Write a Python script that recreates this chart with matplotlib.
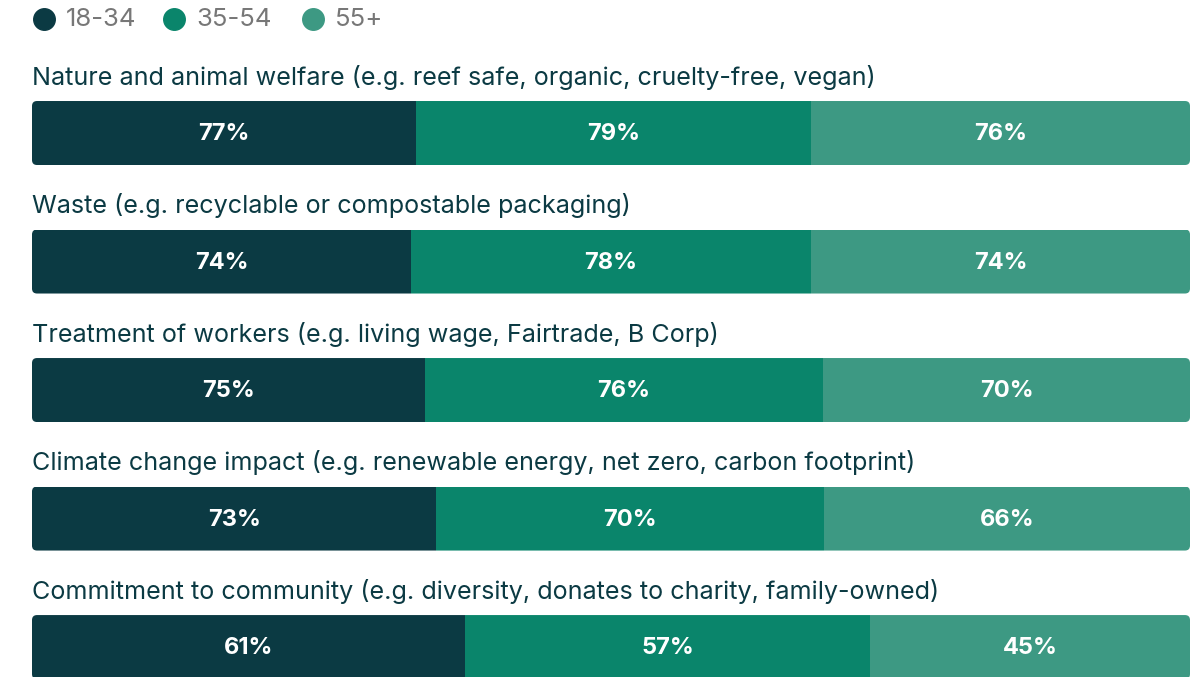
import matplotlib
matplotlib.use("Agg")
import matplotlib.pyplot as plt
from matplotlib.patches import FancyBboxPatch
import numpy as np

plt.rcParams['font.family'] = ['Inter', 'DejaVu Sans']

categories = [
    "Nature and animal welfare (e.g. reef safe, organic, cruelty-free, vegan)",
    "Waste (e.g. recyclable or compostable packaging)",
    "Treatment of workers (e.g. living wage, Fairtrade, B Corp)",
    "Climate change impact (e.g. renewable energy, net zero, carbon footprint)",
    "Commitment to community (e.g. diversity, donates to charity, family-owned)",
]
series_names = ["18-34", "35-54", "55+"]
age_18_34 = [77, 74, 75, 73, 61]
age_35_54 = [79, 78, 76, 70, 57]
age_55_plus = [76, 74, 70, 66, 45]
colors = ["#0b3a43", "#0a856b", "#3d9983"]

W, H = 1202, 677
fig = plt.figure(figsize=(W / 100, H / 100), dpi=100)
ax = fig.add_axes([32 / W, 0, 1158 / W, 1])
ax.set_xlim(0, 1)
ax.set_ylim(4.233, -1.035)
ax.axis("off")

series = np.array([age_18_34, age_35_54, age_55_plus], dtype=float)
totals = series.sum(axis=0)
y = np.arange(len(categories))
bar_h = 0.498

# rounded clip shapes per row
px_per_x = 1158.0
px_per_y = 128.5
clips = []
for i in y:
    r_px = 5.0
    patch = FancyBboxPatch((0, i - bar_h / 2), 1, bar_h,
                           boxstyle=f"round,pad=0,rounding_size={r_px / px_per_x}",
                           mutation_aspect=px_per_x / px_per_y,
                           transform=ax.transData, facecolor="none", edgecolor="none")
    ax.add_patch(patch)
    clips.append(patch)

left = np.zeros(len(categories))
for s, vals in enumerate(series):
    widths = vals / totals
    bars = ax.barh(y, widths, left=left, height=bar_h, color=colors[s], edgecolor="none")
    for i, b in enumerate(bars):
        b.set_clip_path(clips[i])
        ax.text(left[i] + widths[i] / 2, y[i] + 0.01, f"{int(vals[i])}%", ha="center", va="center",
                color="white", fontsize=17, fontweight="bold")
    left += widths

for i, cat in enumerate(categories):
    ax.text(0, y[i] - 0.435, cat, ha="left", va="center", color="#0b3a43", fontsize=18.1)

# legend
leg_x = [44, 174, 313]
leg_y = 1 - 19 / H
for s, name in enumerate(series_names):
    fig.lines.append(plt.Line2D([leg_x[s] / W], [leg_y], marker="o", markersize=15.5,
                                color=colors[s], transform=fig.transFigure, linestyle="none"))
    fig.text((leg_x[s] + 22) / W, leg_y, name, ha="left", va="center",
             color="#777777", fontsize=18.5)

fig.savefig("out.png", dpi=100)
